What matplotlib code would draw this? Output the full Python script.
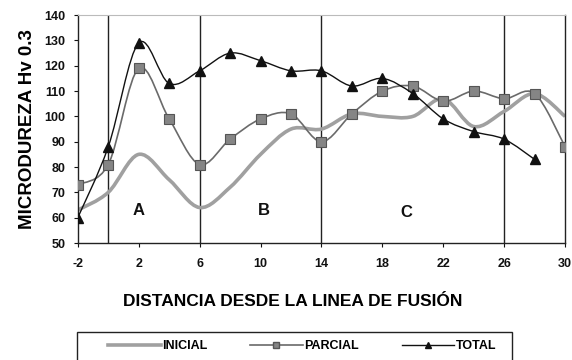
import matplotlib
matplotlib.use("Agg")
import matplotlib.pyplot as plt
import numpy as np
from matplotlib.path import Path
from matplotlib.patches import PathPatch, Rectangle
from matplotlib.lines import Line2D

plt.rcParams['font.family'] = ['Liberation Sans', 'DejaVu Sans']
plt.rcParams['axes.unicode_minus'] = False

x_all = [-2, 0, 2, 4, 6, 8, 10, 12, 14, 16, 18, 20, 22, 24, 26, 28, 30]
inicial = [63, 70, 85, 75, 64, 72, 85, 95, 95, 101, 100, 100, 107, 96, 102, 109, 100]
parcial = [73, 81, 119, 99, 81, 91, 99, 101, 90, 101, 110, 112, 106, 110, 107, 109, 88]
x_total = [-2, 0, 2, 4, 6, 8, 10, 12, 14, 16, 18, 20, 22, 24, 26, 28]
total = [60, 88, 129, 113, 118, 125, 122, 118, 118, 112, 115, 109, 99, 94, 91, 83]

zone_lines = [0, 6, 14, 26]
zone_labels = ['A', 'B', 'C']
zone_label_x = [2, 10.2, 19.6]
zone_label_y = [63, 63, 62]

xticks = list(range(-2, 31, 4))
yticks = list(range(50, 141, 10))


def smooth_path(xs, ys, t=1/6):
    xs = np.asarray(xs, float)
    ys = np.asarray(ys, float)
    pts = np.column_stack([xs, ys])
    verts = [pts[0]]
    codes = [Path.MOVETO]
    n = len(pts)
    for i in range(n - 1):
        p0 = pts[i - 1] if i > 0 else pts[i]
        p1 = pts[i]
        p2 = pts[i + 1]
        p3 = pts[i + 2] if i + 2 < n else pts[i + 1]
        c1 = p1 + (p2 - p0) * t
        c2 = p2 - (p3 - p1) * t
        verts += [c1, c2, p2]
        codes += [Path.CURVE4] * 3
    return Path(verts, codes)


W, H = 572, 360
fig = plt.figure(figsize=(W / 100, H / 100), dpi=100)
ax = fig.add_axes([0.136, 0.325, 0.852, 0.633])
ax.set_xlim(-2, 30)
ax.set_ylim(50, 140)

for xv in zone_lines:
    ax.axvline(xv, color='#222222', lw=1.0, zorder=1)

ax.add_patch(PathPatch(smooth_path(x_all, inicial), fill=False, edgecolor='#a0a0a0', lw=2.6, zorder=2))
ax.add_patch(PathPatch(smooth_path(x_all, parcial), fill=False, edgecolor='#6a6a6a', lw=1.2, zorder=3))
ax.plot(x_all, parcial, ls='none', marker='s', ms=7, mfc='#858585', mec='#555555', mew=0.8, zorder=4)
ax.add_patch(PathPatch(smooth_path(x_total, total), fill=False, edgecolor='#111111', lw=1.0, zorder=5))
ax.plot(x_total, total, ls='none', marker='^', ms=7.5, mfc='#111111', mec='#111111', zorder=6)

for lab, lx, ly in zip(zone_labels, zone_label_x, zone_label_y):
    ax.text(lx, ly, lab, fontsize=12, fontweight='bold', ha='center', va='center', color='#111111')

ax.set_xticks(xticks)
ax.set_yticks(yticks)
ax.tick_params(axis='both', direction='out', length=3, width=0.8, labelsize=9, colors='#111111')
ax.tick_params(axis='x', pad=8)
ax.tick_params(axis='y', pad=6)
for lbl in ax.get_xticklabels() + ax.get_yticklabels():
    lbl.set_fontweight('bold')
for s in ['left', 'bottom', 'right']:
    ax.spines[s].set_color('#222222')
    ax.spines[s].set_linewidth(1.0)
ax.spines['top'].set_color('#bbbbbb')

ax.set_xlabel('DISTANCIA DESDE LA LINEA DE FUSIÓN', fontsize=12.5, fontweight='bold')
ax.xaxis.set_label_coords(0.441, -0.225)
ax.set_ylabel('MICRODUREZA Hv 0.3', fontsize=13.5, fontweight='bold', labelpad=6)

handles = [
    Line2D([], [], color='#a0a0a0', lw=2.6),
    Line2D([], [], color='#6a6a6a', lw=1.2, marker='s', ms=5, mfc='#858585', mec='#555555'),
    Line2D([], [], color='#111111', lw=1.0, marker='^', ms=5, mfc='#111111'),
]
leg = fig.legend(handles, ['INICIAL', 'PARCIAL', 'TOTAL'], ncol=3, loc='center left',
                 bbox_to_anchor=(108 / W, 1 - 346 / H), frameon=False,
                 prop={'size': 9, 'weight': 'bold'},
                 handlelength=4.2, handletextpad=0.15, borderpad=0, borderaxespad=0,
                 columnspacing=3.4)
fig.add_artist(Rectangle((77 / W, -0.02), (512 - 77) / W, (1 - 332 / H) + 0.02,
                         transform=fig.transFigure, fill=False, edgecolor='#222222', lw=1.0))

fig.savefig('out.png', dpi=100)
